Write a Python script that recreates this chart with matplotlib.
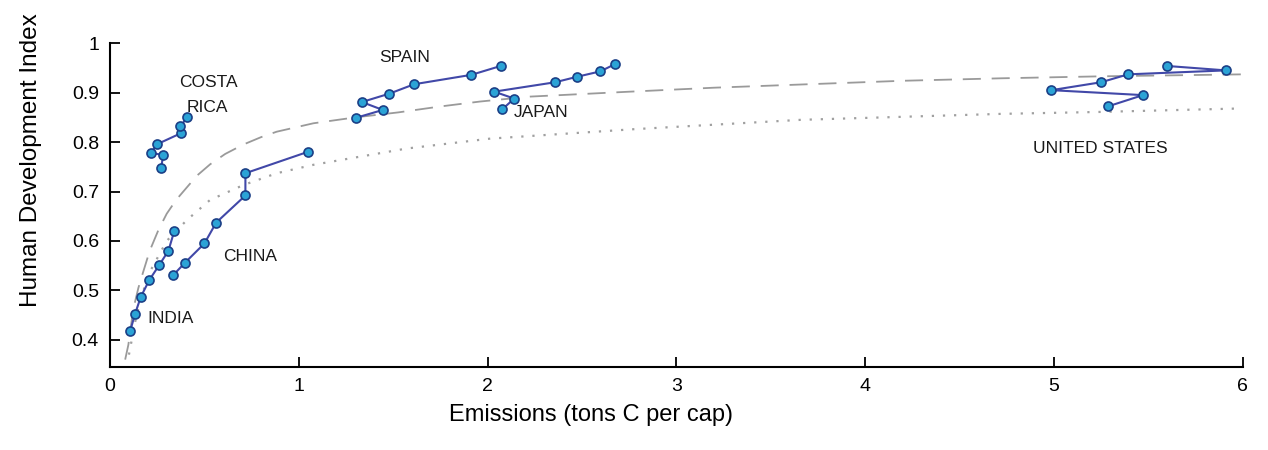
import matplotlib
matplotlib.use("Agg")
import matplotlib.pyplot as plt

plt.rcParams['font.family'] = ['Liberation Sans', 'DejaVu Sans']

# country trajectories (emissions tons C per cap, HDI), in time order
costa_x = [0.270, 0.282, 0.216, 0.251, 0.376, 0.371, 0.410]
costa_y = [0.747, 0.774, 0.778, 0.796, 0.818, 0.832, 0.850]
india_x = [0.106, 0.132, 0.163, 0.208, 0.260, 0.309, 0.341]
india_y = [0.417, 0.452, 0.487, 0.521, 0.551, 0.580, 0.621]
china_x = [0.335, 0.397, 0.500, 0.562, 0.717, 0.717, 1.046]
china_y = [0.531, 0.556, 0.595, 0.637, 0.692, 0.737, 0.780]
spain_x = [1.302, 1.445, 1.334, 1.480, 1.611, 1.914, 2.070]
spain_y = [0.849, 0.865, 0.881, 0.898, 0.917, 0.936, 0.954]
japan_x = [2.077, 2.141, 2.035, 2.358, 2.473, 2.597, 2.677]
japan_y = [0.866, 0.888, 0.902, 0.921, 0.932, 0.943, 0.958]
us_x = [5.285, 5.472, 4.987, 5.250, 5.393, 5.911, 5.598]
us_y = [0.872, 0.895, 0.905, 0.921, 0.937, 0.945, 0.954]

# fitted curves
dash_x = [0.08, 0.097, 0.123, 0.15, 0.176, 0.21, 0.256, 0.30, 0.35, 0.406, 0.46,
          0.53, 0.61, 0.706, 0.80, 0.883, 1.077, 1.3, 1.526, 1.749, 1.96, 2.226,
          2.756, 3.2, 3.7, 4.2, 4.72, 5.25, 6.0]
dash_y = [0.36, 0.39, 0.462, 0.505, 0.538, 0.58, 0.622, 0.655, 0.683, 0.708, 0.732,
          0.755, 0.776, 0.795, 0.810, 0.821, 0.838, 0.850, 0.860, 0.872, 0.882, 0.892,
          0.902, 0.910, 0.917, 0.924, 0.929, 0.933, 0.937]
dot_x = [0.10, 0.14, 0.20, 0.30, 0.406, 0.53, 0.706, 0.883, 1.077, 1.272,
         1.572, 2.014, 2.455, 2.773, 3.66, 4.716, 5.246, 5.99]
dot_y = [0.37, 0.45, 0.53, 0.60, 0.642, 0.683, 0.713, 0.737, 0.754, 0.767,
         0.787, 0.807, 0.818, 0.826, 0.845, 0.857, 0.861, 0.868]

labels = ['COSTA', 'RICA', 'INDIA', 'CHINA', 'SPAIN', 'JAPAN', 'UNITED STATES']
label_x = [0.519, 0.514, 0.318, 0.742, 1.563, 2.284, 5.246]
label_y = [0.921, 0.869, 0.444, 0.568, 0.972, 0.859, 0.788]

fig = plt.figure(figsize=(12.68, 4.5), dpi=100)
ax = fig.add_axes([0.0868, 0.1844, 0.8932, 0.7196])

ax.plot(dash_x, dash_y, color='#9a9a9a', linestyle=(0, (10, 6)), linewidth=1.3)
ax.plot(dot_x, dot_y, color='#a0a0a0', linestyle=(0, (1, 4)), linewidth=1.6)

for xs, ys in [(costa_x, costa_y), (india_x, india_y), (china_x, china_y),
               (spain_x, spain_y), (japan_x, japan_y), (us_x, us_y)]:
    ax.plot(xs, ys, color='#4148a8', linewidth=1.5, marker='o', markersize=6.5,
            markerfacecolor='#2ba3d6', markeredgecolor='#1b3f86', markeredgewidth=1.2)

for t, lx, ly in zip(labels, label_x, label_y):
    ax.text(lx, ly, t, fontsize=12.5, ha='center', va='center', color='#1a1a1a')

ax.set_xlim(0, 6)
ax.set_ylim(0.345, 1.0)
ax.set_xticks([0, 1, 2, 3, 4, 5, 6])
ax.set_yticks([0.4, 0.5, 0.6, 0.7, 0.8, 0.9, 1.0])
ax.set_yticklabels(['0.4', '0.5', '0.6', '0.7', '0.8', '0.9', '1'])
ax.tick_params(direction='in', length=7, width=1.3, labelsize=14, pad=8)
ax.spines['top'].set_visible(False)
ax.spines['right'].set_visible(False)
ax.spines['left'].set_linewidth(1.5)
ax.spines['bottom'].set_linewidth(1.5)

ax.set_xlabel('Emissions (tons C per cap)', fontsize=17)
ax.xaxis.set_label_coords(0.425, -0.115)
ax.set_ylabel('Human Development Index', fontsize=17.5)
ax.yaxis.set_label_coords(-0.06, 0.64)

fig.savefig('out.png', dpi=100)
